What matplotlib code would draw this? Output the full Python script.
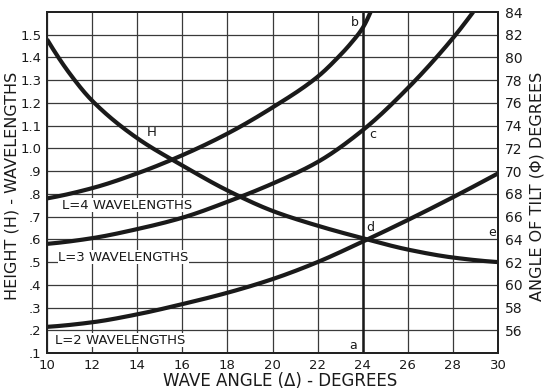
import numpy as np
import matplotlib
matplotlib.use("Agg")
import matplotlib.pyplot as plt

# ---------------- data ----------------
h_x = [10, 11, 12, 14, 16, 18, 20, 22, 24, 26, 28, 30]
h_vals = [1.48, 1.33, 1.21, 1.045, 0.925, 0.815, 0.725, 0.66, 0.605, 0.555, 0.52, 0.50]

l4_x = [10, 12, 14, 16, 18, 20, 22, 23, 23.5, 24, 24.35]
l4_tilt = [67.6, 68.5, 69.8, 71.4, 73.3, 75.6, 78.3, 80.2, 81.3, 82.6, 84.0]

l3_x = [10, 12, 14, 16, 18, 20, 22, 24, 26, 28, 28.9]
l3_tilt = [63.6, 64.1, 64.9, 65.9, 67.3, 68.9, 70.8, 73.6, 77.3, 81.7, 84.0]

l2_x = [10, 12, 14, 16, 18, 20, 22, 24, 26, 28, 30]
l2_tilt = [56.3, 56.7, 57.4, 58.3, 59.3, 60.5, 62.0, 63.8, 65.7, 67.7, 69.8]

x_ticks = list(range(10, 31, 2))
h_ticks = [0.1, 0.2, 0.3, 0.4, 0.5, 0.6, 0.7, 0.8, 0.9, 1.0, 1.1, 1.2, 1.3, 1.4, 1.5]
h_tick_labels = [".1", ".2", ".3", ".4", ".5", ".6", ".7", ".8", ".9", "1.0", "1.1", "1.2", "1.3", "1.4", "1.5"]
tilt_ticks = list(range(56, 85, 2))
marker_x = 24


def pchip(x, y, n=300):
    """Monotone piecewise cubic (Fritsch-Carlson) through the read points."""
    x = np.asarray(x, float)
    y = np.asarray(y, float)
    hh = np.diff(x)
    dl = np.diff(y) / hh
    m = len(x)
    d = np.zeros(m)
    for k in range(1, m - 1):
        if dl[k - 1] * dl[k] > 0:
            w1 = 2 * hh[k] + hh[k - 1]
            w2 = hh[k] + 2 * hh[k - 1]
            d[k] = (w1 + w2) / (w1 / dl[k - 1] + w2 / dl[k])
    def end(h0, h1, m0, m1):
        dd = ((2 * h0 + h1) * m0 - h0 * m1) / (h0 + h1)
        if np.sign(dd) != np.sign(m0):
            dd = 0
        elif np.sign(m0) != np.sign(m1) and abs(dd) > abs(3 * m0):
            dd = 3 * m0
        return dd
    d[0] = end(hh[0], hh[1], dl[0], dl[1])
    d[-1] = end(hh[-1], hh[-2], dl[-1], dl[-2])
    xs = np.linspace(x[0], x[-1], n)
    ys = np.empty_like(xs)
    for j, xv in enumerate(xs):
        i = int(np.clip(np.searchsorted(x, xv, side="right") - 1, 0, m - 2))
        t = (xv - x[i]) / hh[i]
        h00 = 2 * t ** 3 - 3 * t ** 2 + 1
        h10 = t ** 3 - 2 * t ** 2 + t
        h01 = -2 * t ** 3 + 3 * t ** 2
        h11 = t ** 3 - t ** 2
        ys[j] = h00 * y[i] + h10 * hh[i] * d[i] + h01 * y[i + 1] + h11 * hh[i] * d[i + 1]
    return xs, ys


plt.rcParams['font.family'] = ['DejaVu Sans']

fig = plt.figure(figsize=(5.46, 3.90), dpi=100)
W, H = 546, 390
left, right, top, bottom = 47, 498, 12, 353
ax = fig.add_axes([left / W, 1 - bottom / H, (right - left) / W, (bottom - top) / H])
ax2 = ax.twinx()

ax.set_xlim(10, 30)
ax.set_ylim(0.1, 1.6)
ax2.set_ylim(54, 84)

ax.set_xticks(x_ticks)
ax.set_yticks(h_ticks)
ax.set_yticklabels(h_tick_labels)
ax2.set_yticks(tilt_ticks)

ax.grid(True, color="#3a3a3a", linewidth=0.9)
ax.set_axisbelow(True)
ax.tick_params(length=0, labelsize=9.5, pad=4, labelcolor="#1a1a1a")
ax2.tick_params(length=0, labelsize=10, pad=5, labelcolor="#1a1a1a")

for a in (ax, ax2):
    for s in a.spines.values():
        s.set_linewidth(1.4)
        s.set_color("#222222")

lw = 3.0
xs, ys = pchip(h_x, h_vals)
ax.plot(xs, ys, color="#1a1a1a", lw=lw, solid_capstyle="butt", clip_on=True)
for cx, cy in ((l4_x, l4_tilt), (l3_x, l3_tilt), (l2_x, l2_tilt)):
    xs, ys = pchip(cx, cy)
    ax2.plot(xs, ys, color="#1a1a1a", lw=lw, solid_capstyle="butt", clip_on=True)

ax.axvline(marker_x, color="#1a1a1a", lw=1.8)

# curve labels
lab_kw = dict(fontsize=9.5, color="#1a1a1a", va="center", ha="left",
              bbox=dict(facecolor="white", edgecolor="none", pad=0.5))
ax.text(10.67, 0.751, "L=4 WAVELENGTHS", **lab_kw)
ax.text(10.5, 0.522, "L=3 WAVELENGTHS", **lab_kw)
ax.text(10.35, 0.157, "L=2 WAVELENGTHS", **lab_kw)
ax.text(14.66, 1.072, "H", fontsize=9.5, ha="center", va="center", color="#1a1a1a")

pt_kw = dict(fontsize=9, ha="center", va="center", color="#1a1a1a")
ax.text(23.66, 1.556, "b", **pt_kw)
ax.text(24.46, 1.059, "c", **pt_kw)
ax.text(24.32, 0.65, "d", **pt_kw)
ax.text(23.57, 0.135, "a", **pt_kw)
ax.text(29.73, 0.632, "e", **pt_kw)

# axis titles
fig.text(280 / W, 1 - 381 / H, "WAVE ANGLE (Δ) - DEGREES", ha="center", va="center",
         fontsize=12, color="#1a1a1a")
fig.text(12 / W, 1 - 186 / H, "HEIGHT (H) - WAVELENGTHS", ha="center", va="center",
         rotation=90, fontsize=11.5, color="#1a1a1a")
fig.text(537 / W, 1 - 186 / H, "ANGLE OF TILT (Φ) DEGREES", ha="center", va="center",
         rotation=90, fontsize=11.5, color="#1a1a1a")

fig.savefig("out.png", dpi=100)
